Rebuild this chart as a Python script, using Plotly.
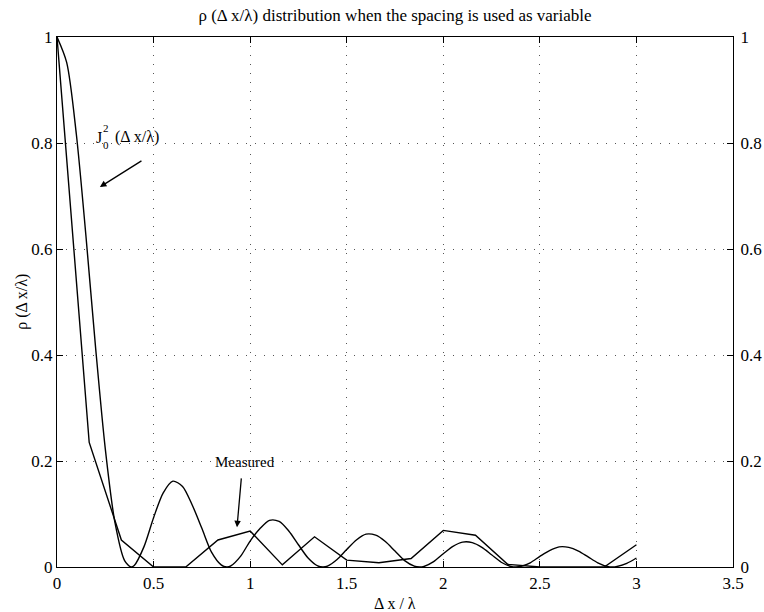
import plotly.graph_objects as go

# J0^2 (theoretical) curve
j0_x = [0.0, 0.05, 0.10, 0.15, 0.20, 0.25, 0.30, 0.35, 0.383, 0.40, 0.45,
        0.50, 0.55, 0.60, 0.65, 0.70, 0.75, 0.80, 0.85, 0.879, 0.90, 0.95,
        1.00, 1.05, 1.10, 1.15, 1.20, 1.25, 1.30, 1.35, 1.377, 1.40, 1.45,
        1.50, 1.55, 1.60, 1.65, 1.70, 1.75, 1.80, 1.85, 1.877, 1.90, 1.95,
        2.00, 2.05, 2.10, 2.15, 2.20, 2.25, 2.30, 2.35, 2.376, 2.40, 2.45,
        2.50, 2.55, 2.60, 2.65, 2.70, 2.75, 2.80, 2.85, 2.876, 2.90, 2.95, 3.00]
j0_y = [1.0, 0.952, 0.817, 0.624, 0.413, 0.223, 0.084, 0.012, 0.0, 0.003, 0.038,
        0.093, 0.140, 0.162, 0.152, 0.117, 0.073, 0.028, 0.004, 0.0, 0.002, 0.020,
        0.049, 0.072, 0.088, 0.086, 0.068, 0.042, 0.017, 0.002, 0.0, 0.0015, 0.014,
        0.033, 0.051, 0.062, 0.060, 0.048, 0.030, 0.012, 0.0015, 0.0, 0.001, 0.010,
        0.025, 0.039, 0.047, 0.046, 0.037, 0.023, 0.009, 0.001, 0.0, 0.001, 0.008,
        0.020, 0.031, 0.038, 0.037, 0.030, 0.019, 0.008, 0.001, 0.0, 0.001, 0.007, 0.017]

# Measured curve (piecewise linear, step 1/6)
meas_x = [0.0, 0.1667, 0.3333, 0.5, 0.6667, 0.8333, 1.0, 1.1667, 1.3333, 1.5,
          1.6667, 1.8333, 2.0, 2.1667, 2.3333, 2.5, 2.6667, 2.8333, 3.0]
meas_y = [1.0, 0.235, 0.051, 0.0, 0.0, 0.051, 0.068, 0.004, 0.057, 0.013,
          0.008, 0.016, 0.069, 0.060, 0.005, 0.0, 0.0, 0.0, 0.042]

x_ticks = [0, 0.5, 1, 1.5, 2, 2.5, 3, 3.5]
x_tick_text = ["0", "0.5", "1", "1.5", "2", "2.5", "3", "3.5"]
y_ticks = [0, 0.2, 0.4, 0.6, 0.8, 1]
y_tick_text = ["0", "0.2", "0.4", "0.6", "0.8", "1"]

FONT = "Liberation Serif, Times New Roman, serif"

fig = go.Figure()
fig.add_trace(go.Scatter(x=j0_x, y=j0_y, mode="lines",
                         line=dict(color="black", width=1.4, shape="spline", smoothing=0.8),
                         showlegend=False, hoverinfo="skip"))
fig.add_trace(go.Scatter(x=meas_x, y=meas_y, mode="lines",
                         line=dict(color="black", width=1.4),
                         showlegend=False, hoverinfo="skip"))
# helper trace for the right-hand labelled axis
fig.add_trace(go.Scatter(x=[0], y=[0], yaxis="y2", mode="lines", opacity=0,
                         showlegend=False, hoverinfo="skip"))

grid = dict(showgrid=True, gridcolor="#555", gridwidth=1, griddash="1px,8px")

fig.update_layout(
    width=764, height=612,
    margin=dict(l=57, r=31, t=37, b=45),
    plot_bgcolor="white", paper_bgcolor="white",
    font=dict(family=FONT, size=17, color="black"),
    title=dict(text="ρ (Δ x/λ) distribution when the spacing is used as variable",
               x=0.5, xanchor="center", xref="paper", y=0.976, yanchor="middle",
               font=dict(family=FONT, size=17, color="black")),
    xaxis=dict(range=[0, 3.5], tickvals=x_ticks, ticktext=x_tick_text,
               ticks="inside", ticklen=6, tickcolor="black", showline=True,
               linecolor="black", linewidth=1.2, mirror="ticks", zeroline=False,
               automargin=False, **grid),
    yaxis=dict(range=[0, 1], tickvals=y_ticks, ticktext=y_tick_text,
               ticks="inside", ticklen=6, tickcolor="black", showline=True,
               linecolor="black", linewidth=1.2, mirror="ticks", zeroline=False,
               automargin=False, **grid),
    yaxis2=dict(range=[0, 1], tickvals=y_ticks, ticktext=y_tick_text,
                overlaying="y", side="right", ticks="outside", ticklen=0,
                showline=False, showgrid=False, zeroline=False,
                ticklabelstandoff=3, automargin=False),
)

# axis titles
fig.add_annotation(x=0.5, y=-0.068, xref="paper", yref="paper", text="Δ x / λ",
                   showarrow=False, font=dict(family=FONT, size=16, color="black"),
                   xanchor="center", yanchor="middle")
fig.add_annotation(x=-0.052, y=0.5, xref="paper", yref="paper", text="ρ (Δ x/λ)",
                   textangle=-90, showarrow=False,
                   font=dict(family=FONT, size=16, color="black"),
                   xanchor="center", yanchor="middle")

ann_font = dict(family=FONT, size=16, color="black")
fig.add_annotation(x=0.222, y=0.717, ax=0.445, ay=0.768, xref="x", yref="y",
                   axref="x", ayref="y", text="", showarrow=True,
                   arrowhead=2, arrowsize=1, arrowwidth=1.3, arrowcolor="black")
fig.add_annotation(x=0.932, y=0.075, ax=0.955, ay=0.17, xref="x", yref="y",
                   axref="x", ayref="y", text="", showarrow=True,
                   arrowhead=2, arrowsize=1, arrowwidth=1.3, arrowcolor="black")
fig.add_annotation(x=0.972, y=0.199, xref="x", yref="y", text="Measured",
                   showarrow=False, font=dict(family=FONT, size=15, color="black"),
                   xanchor="center", yanchor="middle")
fig.add_annotation(x=0.218, y=0.810, xref="x", yref="y", text="J",
                   showarrow=False, font=ann_font, xanchor="center", yanchor="middle")
fig.add_annotation(x=0.254, y=0.828, xref="x", yref="y", text="2",
                   showarrow=False, font=dict(family=FONT, size=11, color="black"),
                   xanchor="center", yanchor="middle")
fig.add_annotation(x=0.254, y=0.797, xref="x", yref="y", text="0",
                   showarrow=False, font=dict(family=FONT, size=11, color="black"),
                   xanchor="center", yanchor="middle")
fig.add_annotation(x=0.412, y=0.811, xref="x", yref="y", text="(Δ x/λ)",
                   showarrow=False, font=ann_font, xanchor="center", yanchor="middle")

fig.write_html(
    "out.html",
    config={"displayModeBar": False},
    post_script="document.body.style.margin='0';document.body.style.padding='0';"
                "document.body.style.overflow='hidden';",
)
